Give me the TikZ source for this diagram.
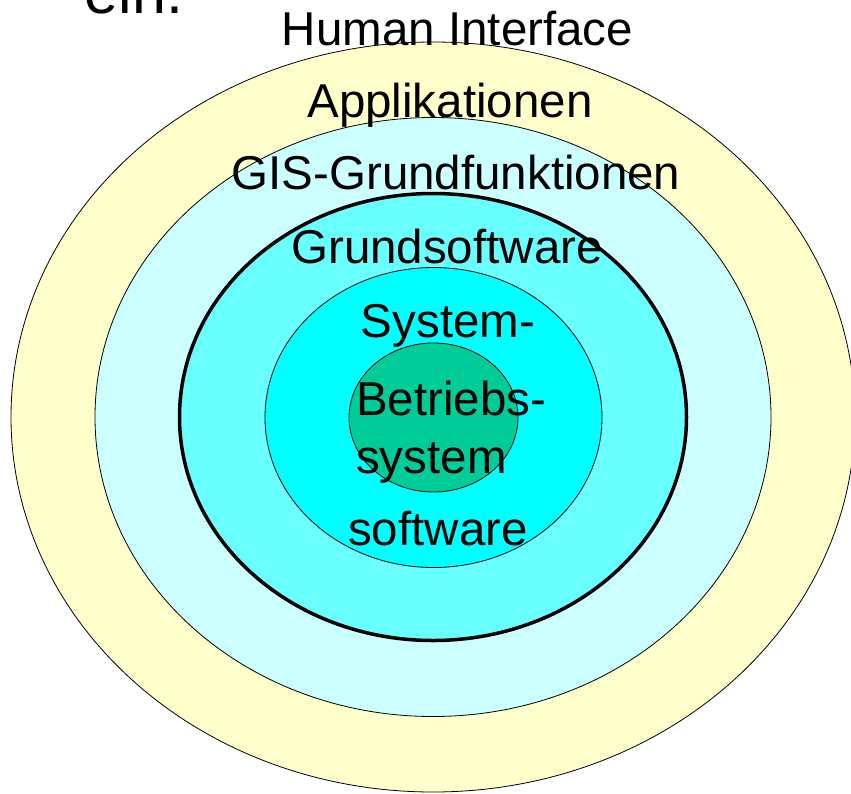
\documentclass[tikz,border=0pt]{standalone}
\usepackage{fontspec}
\setmainfont{Liberation Sans}
\definecolor{ringA}{HTML}{FFFFCC}
\definecolor{ringB}{HTML}{CCFFFF}
\definecolor{ringC}{HTML}{6AFFFF}
\definecolor{ringD}{HTML}{00FFFF}
\definecolor{ringE}{HTML}{00CC99}
\begin{document}
\begin{tikzpicture}[x=1pt,y=-1pt,
  ring/.style={draw=black, line width=0.8pt},
  label/.style={anchor=base, inner sep=0pt, font=\fontsize{47.5}{56}\selectfont}]
\useasboundingbox (0,0) rectangle (851,793);
\clip (0,0) rectangle (851,793);
\coordinate (c) at (433,417);
\path[ring, fill=ringA] (c) ellipse [x radius=422, y radius=375];
\path[ring, fill=ringB] (c) ellipse [x radius=338, y radius=299.5];
\path[draw=black, line width=3.5pt, fill=ringC] (c) ellipse [x radius=253.5, y radius=223.5];
\path[ring, fill=ringD] (433.5,417.5) ellipse [x radius=168.5, y radius=150];
\path[ring, fill=ringE] (433.5,417.5) ellipse [x radius=84.5, y radius=74.5];
\node[label, font=\fontsize{61}{70}\selectfont] (ein) at (134,13) {ein.};
\node[label] (hi) at (457.5,45) {Human Interface};
\node[label] (app) at (450,117) {Applikationen};
\node[label] (gis) at (456,189) {GIS-Grundfunktionen};
\node[label] (gs) at (447,263) {Grundsoftware};
\node[label] (sys) at (448,337) {System-};
\node[label, anchor=base west] (bet) at (356,415) {Betriebs-};
\node[label, anchor=base west] (bsy) at (356,473) {system};
\node[label] (sw) at (438,545) {software};
\end{tikzpicture}
\end{document}
